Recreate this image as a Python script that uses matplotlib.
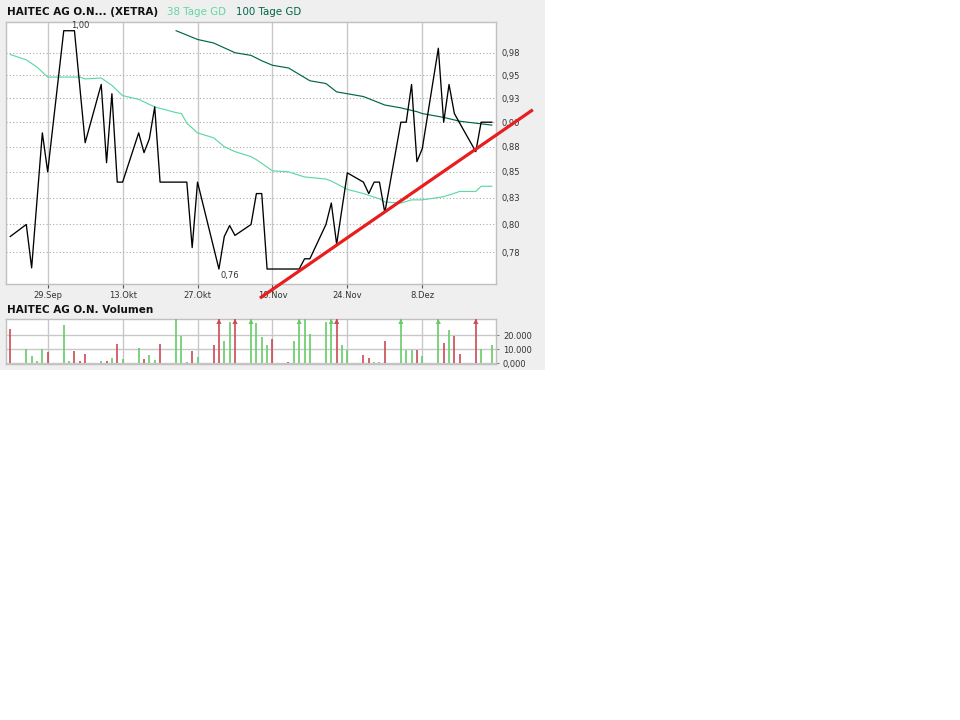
import numpy as np
import matplotlib.pyplot as plt
from matplotlib.patches import Rectangle

# closing prices (EUR)
price_dates = ['2006-09-22', '2006-09-25', '2006-09-26', '2006-09-28', '2006-09-29',
               '2006-10-02', '2006-10-04', '2006-10-06', '2006-10-09', '2006-10-10',
               '2006-10-11', '2006-10-12', '2006-10-13', '2006-10-16', '2006-10-17',
               '2006-10-18', '2006-10-19', '2006-10-20', '2006-10-25', '2006-10-26',
               '2006-10-27', '2006-10-31', '2006-11-01', '2006-11-02', '2006-11-03',
               '2006-11-06', '2006-11-07', '2006-11-08', '2006-11-09', '2006-11-15',
               '2006-11-16', '2006-11-17', '2006-11-20', '2006-11-21', '2006-11-22',
               '2006-11-24', '2006-11-27', '2006-11-28', '2006-11-29', '2006-11-30',
               '2006-12-01', '2006-12-04', '2006-12-05', '2006-12-06', '2006-12-07',
               '2006-12-08', '2006-12-11', '2006-12-12', '2006-12-13', '2006-12-14',
               '2006-12-15', '2006-12-18', '2006-12-19', '2006-12-21']
price_values = [0.789, 0.800, 0.761, 0.889, 0.850,
                1.000, 1.000, 0.879, 0.940, 0.859,
                0.930, 0.840, 0.840, 0.889, 0.869,
                0.883, 0.916, 0.840, 0.840, 0.779,
                0.840, 0.760, 0.789, 0.799, 0.790,
                0.800, 0.829, 0.829, 0.760, 0.760,
                0.769, 0.769, 0.800, 0.820, 0.782,
                0.849, 0.840, 0.829, 0.840, 0.840,
                0.811, 0.900, 0.900, 0.940, 0.860,
                0.873, 0.980, 0.900, 0.940, 0.909,
                0.899, 0.870, 0.900, 0.900]

# 38 Tage GD
ma38_dates = ['2006-09-22', '2006-09-25', '2006-09-27', '2006-09-29', '2006-10-05',
              '2006-10-06', '2006-10-09', '2006-10-11', '2006-10-13', '2006-10-16',
              '2006-10-19', '2006-10-23', '2006-10-24', '2006-10-25', '2006-10-27',
              '2006-10-30', '2006-11-01', '2006-11-03', '2006-11-06', '2006-11-07',
              '2006-11-10', '2006-11-13', '2006-11-16', '2006-11-20', '2006-11-21',
              '2006-11-24', '2006-11-27', '2006-11-30', '2006-12-01', '2006-12-04',
              '2006-12-06', '2006-12-08', '2006-12-12', '2006-12-15', '2006-12-18',
              '2006-12-19', '2006-12-21']
ma38_values = [0.973, 0.967, 0.959, 0.948, 0.948,
               0.946, 0.947, 0.939, 0.928, 0.924,
               0.916, 0.910, 0.909, 0.899, 0.889,
               0.884, 0.875, 0.870, 0.865, 0.862,
               0.851, 0.850, 0.845, 0.843, 0.841,
               0.833, 0.829, 0.824, 0.821, 0.820,
               0.823, 0.823, 0.826, 0.831, 0.831,
               0.836, 0.836]

# 100 Tage GD
ma100_dates = ['2006-10-23', '2006-10-25', '2006-10-27', '2006-10-30', '2006-11-03',
               '2006-11-06', '2006-11-08', '2006-11-10', '2006-11-13', '2006-11-15',
               '2006-11-17', '2006-11-20', '2006-11-22', '2006-11-24', '2006-11-27',
               '2006-12-01', '2006-12-04', '2006-12-07', '2006-12-08', '2006-12-12',
               '2006-12-15', '2006-12-18', '2006-12-21']
ma100_values = [1.000, 0.995, 0.990, 0.986, 0.975,
                0.972, 0.966, 0.961, 0.958, 0.951,
                0.944, 0.941, 0.932, 0.930, 0.927,
                0.918, 0.915, 0.911, 0.909, 0.905,
                0.901, 0.899, 0.897]

# hand drawn support line
trend_dates = ['2006-11-07T16:00', '2006-12-28T16:00']
trend_values = [0.735, 0.913]

# daily volume, 'g' = up day, 'r' = down day
vol_dates = ['2006-09-22', '2006-09-25', '2006-09-26', '2006-09-27', '2006-09-28', '2006-09-29',
             '2006-10-02', '2006-10-03', '2006-10-04', '2006-10-05', '2006-10-06',
             '2006-10-09', '2006-10-10', '2006-10-11', '2006-10-12', '2006-10-13',
             '2006-10-16', '2006-10-17', '2006-10-18', '2006-10-19', '2006-10-20',
             '2006-10-23', '2006-10-24', '2006-10-25', '2006-10-26', '2006-10-27',
             '2006-10-30', '2006-10-31', '2006-11-01', '2006-11-02', '2006-11-03',
             '2006-11-06', '2006-11-07', '2006-11-08', '2006-11-09', '2006-11-10',
             '2006-11-13', '2006-11-14', '2006-11-15', '2006-11-16', '2006-11-17',
             '2006-11-20', '2006-11-21', '2006-11-22', '2006-11-23', '2006-11-24',
             '2006-11-27', '2006-11-28', '2006-11-29', '2006-11-30', '2006-12-01',
             '2006-12-04', '2006-12-05', '2006-12-06', '2006-12-07', '2006-12-08',
             '2006-12-11', '2006-12-12', '2006-12-13', '2006-12-14', '2006-12-15',
             '2006-12-18', '2006-12-19', '2006-12-21']
vol_values = [24700, 10000, 5000, 1600, 10000, 8100,
              27600, 1400, 9000, 1600, 6900,
              1400, 1600, 4000, 14000, 3300,
              11100, 3300, 6100, 2600, 14000,
              31500, 19300, 900, 8800, 4500,
              12900, 45000, 15900, 29500, 45000,
              45000, 28800, 18800, 13300, 17600,
              900, 15700, 45000, 31500, 21100,
              29500, 45000, 45000, 12900, 9700,
              5700, 4000, 900, 900, 15900,
              45000, 9700, 9700, 9700, 5500,
              45000, 14500, 23600, 19500, 6900,
              45000, 10000, 13300]
vol_dir = ['r', 'g', 'g', 'g', 'g', 'r',
           'g', 'g', 'r', 'r', 'r',
           'g', 'r', 'g', 'r', 'g',
           'g', 'r', 'g', 'g', 'r',
           'g', 'g', 'g', 'r', 'g',
           'r', 'r', 'g', 'g', 'r',
           'g', 'g', 'g', 'g', 'r',
           'r', 'g', 'g', 'g', 'g',
           'g', 'g', 'r', 'g', 'g',
           'r', 'r', 'g', 'g', 'r',
           'g', 'g', 'g', 'r', 'g',
           'g', 'r', 'g', 'r', 'r',
           'r', 'g', 'g']

tick_dates = ['2006-09-29', '2006-10-13', '2006-10-27', '2006-11-10', '2006-11-24', '2006-12-08']
tick_labels = ['29.Sep', '13.Okt', '27.Okt', '10.Nov', '24.Nov', '8.Dez']
price_ticks = [0.975, 0.95, 0.925, 0.90, 0.875, 0.85, 0.825, 0.80, 0.775]
price_tick_labels = ['0,98', '0,95', '0,93', '0,90', '0,88', '0,85', '0,83', '0,80', '0,78']
vol_ticks = [0, 10000, 20000]
vol_tick_labels = ['0,000', '10.000', '20.000']

W, H = 960, 720
C_MA38 = '#5fd8a4'
C_MA100 = '#00664a'
C_UP = '#66cc66'
C_DOWN = '#cc4a55'
C_GRID = '#c8c8c8'
C_TXT = '#333333'

def fx(px):
    return px / W

def fy(py):
    return 1 - py / H

def d(s):
    return np.array(s, dtype='datetime64[m]')

x_lo = np.datetime64('2006-09-21T05:00')
x_hi = np.datetime64('2006-12-21T18:40')

fig = plt.figure(figsize=(W / 100, H / 100), dpi=100)
fig.patch.set_facecolor('white')
fig.add_artist(Rectangle((0, fy(370)), fx(545), 370 / H, transform=fig.transFigure,
                         facecolor='#efefef', edgecolor='none', zorder=0))

# ---- price panel
ax = fig.add_axes([fx(6), fy(284), fx(490), 262 / H])
ax.set_facecolor('white')
ax.set_yscale('log')
ax.plot(d(ma38_dates), ma38_values, color=C_MA38, lw=0.85, zorder=3)
ax.plot(d(ma100_dates), ma100_values, color=C_MA100, lw=0.85, zorder=3)
ax.plot(d(price_dates), price_values, color='black', lw=0.95, zorder=4)
ax.plot(d(trend_dates), trend_values, color='#e81e1e', lw=2.3, zorder=6,
        clip_on=False, solid_capstyle='butt')

pv = np.array(price_values)
pd_ = d(price_dates)
i_max = len(pv) - 1 - np.argmax(pv[::-1])
i_min = np.argmin(pv)
ax.annotate('1,00', (pd_[i_max], pv[i_max]), xytext=(-2.5, 0.5), textcoords='offset points',
            ha='left', va='bottom', fontsize=6, color=C_TXT)
ax.annotate('0,76', (pd_[i_min], pv[i_min]), xytext=(1, -1.5), textcoords='offset points',
            ha='left', va='top', fontsize=6, color=C_TXT)

ax.set_xlim(x_lo, x_hi)
ax.set_ylim(0.747, 1.0101)
ax.set_xticks(d(tick_dates))
ax.set_xticklabels(tick_labels)
ax.yaxis.tick_right()
ax.set_yticks(price_ticks)
ax.set_yticklabels(price_tick_labels)
ax.minorticks_off()
ax.tick_params(axis='x', length=3, width=0.8, color='#555555', labelsize=6, labelcolor=C_TXT, pad=2)
ax.tick_params(axis='y', length=0, labelsize=6, labelcolor=C_TXT, pad=4)
ax.yaxis.grid(True, linestyle=(0, (1, 2)), color='#aaaaaa', lw=0.8)
ax.xaxis.grid(True, color=C_GRID, lw=1.0)
ax.set_axisbelow(True)
for sp in ax.spines.values():
    sp.set_color('#c0c0c0')
    sp.set_linewidth(1.0)

# ---- volume panel
av = fig.add_axes([fx(6), fy(364.3), fx(490), 45.6 / H])
av.set_facecolor('white')
v_top = 31850
vv = np.array(vol_values)
vd = d(vol_dates)
cols = np.array([C_UP if c == 'g' else C_DOWN for c in vol_dir])
av.vlines(vd, 0, np.minimum(vv, v_top), colors=cols, lw=1.2, zorder=3)
over = vv > v_top
av.scatter(vd[over], np.full(over.sum(), v_top - 1900), marker='^', s=14,
           c=cols[over], edgecolors='none', zorder=4, clip_on=False)
av.set_xlim(x_lo, x_hi)
av.set_ylim(-700, v_top)
av.set_xticks(d(tick_dates))
av.set_xticklabels([])
av.yaxis.tick_right()
av.set_yticks(vol_ticks)
av.set_yticklabels(vol_tick_labels)
av.minorticks_off()
av.tick_params(axis='x', length=0)
av.tick_params(axis='y', length=2, width=0.8, color='#888888', labelsize=6, labelcolor=C_TXT, pad=3)
av.grid(True, color=C_GRID, lw=1.0)
av.set_axisbelow(True)
for sp in av.spines.values():
    sp.set_color('#c0c0c0')
    sp.set_linewidth(1.0)

# ---- headings
fig.text(fx(7), fy(12), 'HAITEC AG O.N... (XETRA)', fontsize=7.5, fontweight='bold',
         color='#111111', ha='left', va='center')
fig.text(fx(167), fy(12), '38 Tage GD', fontsize=7.4, color=C_MA38, ha='left', va='center')
fig.text(fx(236), fy(12), '100 Tage GD', fontsize=7.4, color=C_MA100, ha='left', va='center')
fig.text(fx(7), fy(310), 'HAITEC AG O.N. Volumen', fontsize=7.5, fontweight='bold',
         color='#111111', ha='left', va='center')

fig.savefig('out.png', dpi=100)
